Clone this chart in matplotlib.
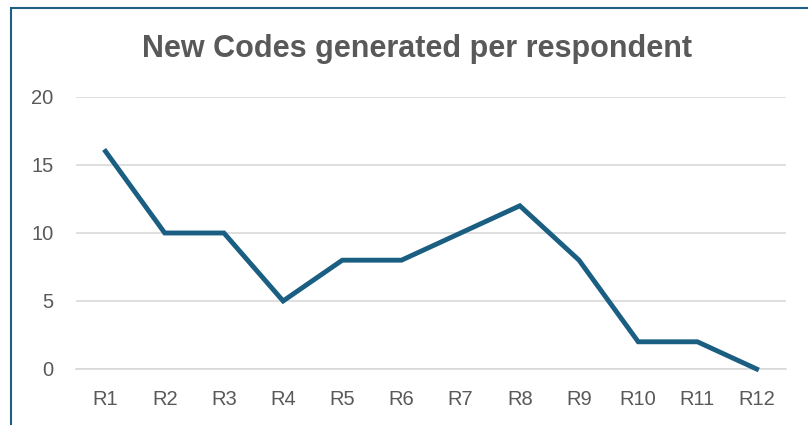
import matplotlib.pyplot as plt
from matplotlib.patches import Rectangle

respondents = ['R1', 'R2', 'R3', 'R4', 'R5', 'R6', 'R7', 'R8', 'R9', 'R10', 'R11', 'R12']
new_codes = [16, 10, 10, 5, 8, 8, 10, 12, 8, 2, 2, 0]
y_ticks = [0, 5, 10, 15, 20]

plt.rcParams['font.family'] = ['Liberation Sans', 'DejaVu Sans']

fig = plt.figure(figsize=(8.08, 4.25), dpi=100)
ax = fig.add_axes([0.094, 0.1318, 0.879, 0.64])

x = range(len(respondents))
ax.plot(x, new_codes, color='#1A5E82', linewidth=3.5, solid_joinstyle='miter', clip_on=False, zorder=3)

ax.set_xlim(-0.5, len(respondents) - 0.5)
ax.set_ylim(0, 20)
ax.set_yticks(y_ticks)
ax.set_xticks(list(x))
ax.set_xticklabels(respondents)
ax.grid(axis='y', color='#D9D9D9', linewidth=1.2)
ax.set_axisbelow(True)
for s in ['top', 'right', 'left']:
    ax.spines[s].set_visible(False)
ax.spines['bottom'].set_color('#D9D9D9')
ax.spines['bottom'].set_linewidth(1.2)
ax.tick_params(length=0, labelsize=14.5, labelcolor='#595959')
ax.tick_params(axis='x', pad=15)
ax.tick_params(axis='y', pad=16)

fig.text(0.516, 1 - 57 / 425, 'New Codes generated per respondent', ha='center', va='baseline',
         fontsize=22, fontweight='bold', color='#595959')

# chart border (left/top visible, cut off at right and bottom)
fig.patches.append(Rectangle((11 / 808, -0.1), 1.2, 1 - 8 / 425 + 0.1, transform=fig.transFigure,
                             fill=False, edgecolor='#1F5F82', linewidth=1.5))

fig.savefig('out.png', dpi=100)
